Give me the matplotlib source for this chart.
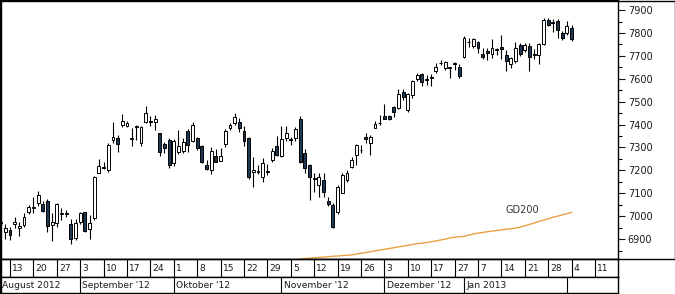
import matplotlib
matplotlib.use("Agg")
import matplotlib.pyplot as plt
import numpy as np
import pandas as pd
from matplotlib.lines import Line2D
from matplotlib.ticker import MultipleLocator

# trading calendar (Xetra holidays removed)
HOLIDAYS = ["2012-12-24", "2012-12-25", "2012-12-26", "2012-12-31", "2013-01-01"]
FIRST_DAY, LAST_DAY, AXIS_END = "2012-08-09", "2013-02-04", "2013-02-15"

# daily OHLC, Aug 9 2012 .. Feb 4 2013
opens = [6970, 6932, 6939, 6968, 6950, 6961, 7019, 7037, 7056, 7051, 7067, 6961, 6969, 7010, 7010, 6965, 6903,
         6975, 7017, 6944, 6990, 7190, 7210, 7201, 7332, 7342, 7398, 7393, 7338, 7390, 7320, 7412, 7415, 7410,
         7362, 7313, 7332, 7233, 7280, 7284, 7372, 7329, 7340, 7306, 7223, 7201, 7262, 7242, 7315, 7383, 7405,
         7412, 7372, 7342, 7195, 7195, 7169, 7195, 7245, 7306, 7262, 7340, 7331, 7340, 7423, 7275, 7223, 7161,
         7136, 7158, 7066, 7048, 7019, 7102, 7158, 7216, 7267, 7287, 7347, 7320, 7386, 7405, 7437, 7437, 7478,
         7473, 7542, 7463, 7529, 7597, 7620, 7596, 7605, 7635, 7668, 7645, 7652, 7665, 7650, 7693, 7760, 7743,
         7762, 7708, 7722, 7708, 7727, 7740, 7703, 7663, 7679, 7747, 7725, 7743, 7704, 7703, 7750, 7856, 7849,
         7853, 7798, 7798, 7820]
highs = [6985, 6966, 6954, 6997, 6975, 7012, 7048, 7085, 7111, 7067, 7077, 7012, 7056, 7034, 7025, 6986, 6986,
         7018, 7020, 7005, 7175, 7248, 7238, 7318, 7412, 7354, 7446, 7415, 7383, 7400, 7394, 7482, 7437, 7441,
         7364, 7325, 7340, 7336, 7376, 7340, 7380, 7410, 7345, 7310, 7245, 7303, 7292, 7296, 7379, 7405, 7449,
         7427, 7394, 7347, 7259, 7223, 7256, 7227, 7297, 7350, 7393, 7393, 7347, 7390, 7437, 7295, 7230, 7187,
         7187, 7187, 7082, 7056, 7136, 7190, 7201, 7259, 7315, 7310, 7364, 7354, 7417, 7442, 7490, 7442, 7481,
         7554, 7554, 7539, 7596, 7624, 7624, 7616, 7620, 7670, 7682, 7677, 7652, 7674, 7663, 7786, 7776, 7779,
         7765, 7733, 7733, 7772, 7733, 7791, 7725, 7696, 7762, 7755, 7755, 7755, 7728, 7755, 7864, 7866, 7859,
         7859, 7810, 7852, 7834]
lows = [6960, 6899, 6896, 6947, 6913, 6953, 7008, 7012, 7044, 7019, 6932, 6892, 6953, 6982, 6997, 6877, 6895,
        6968, 6930, 6900, 6985, 7187, 7204, 7194, 7318, 7281, 7390, 7388, 7306, 7332, 7305, 7405, 7393, 7376,
        7262, 7274, 7210, 7220, 7271, 7274, 7280, 7325, 7289, 7233, 7201, 7184, 7238, 7240, 7300, 7376, 7398,
        7369, 7307, 7161, 7126, 7184, 7150, 7179, 7236, 7262, 7259, 7328, 7310, 7328, 7231, 7187, 7070, 7107,
        7085, 7085, 7044, 6950, 7009, 7100, 7151, 7209, 7223, 7277, 7318, 7267, 7383, 7398, 7423, 7420, 7431,
        7466, 7507, 7456, 7515, 7591, 7568, 7572, 7568, 7626, 7660, 7638, 7602, 7638, 7604, 7689, 7740, 7734,
        7714, 7685, 7680, 7689, 7703, 7685, 7635, 7645, 7667, 7700, 7716, 7635, 7685, 7664, 7747, 7830, 7805,
        7776, 7769, 7791, 7765]
closes = [6975, 6950, 6917, 6975, 6955, 6995, 7041, 7040, 7091, 7024, 6956, 6974, 7051, 7015, 7014, 6899, 6971,
          7015, 6937, 6971, 7172, 7219, 7215, 7310, 7345, 7313, 7415, 7408, 7342, 7395, 7390, 7449, 7410, 7424,
          7281, 7296, 7223, 7328, 7306, 7322, 7310, 7398, 7296, 7238, 7204, 7284, 7238, 7262, 7373, 7398, 7434,
          7383, 7329, 7173, 7200, 7198, 7233, 7199, 7284, 7265, 7335, 7364, 7335, 7380, 7238, 7209, 7169, 7165,
          7169, 7107, 7052, 6954, 7128, 7179, 7190, 7245, 7310, 7291, 7335, 7347, 7402, 7409, 7425, 7425, 7456,
          7532, 7521, 7532, 7590, 7616, 7587, 7599, 7608, 7652, 7671, 7674, 7649, 7668, 7612, 7776, 7762, 7772,
          7733, 7693, 7711, 7733, 7729, 7728, 7677, 7692, 7733, 7707, 7747, 7696, 7706, 7750, 7856, 7834, 7842,
          7813, 7776, 7830, 7772]

# 200-day average, visible from Nov 7 2012
gd200_start = "2012-11-07"
gd200 = [6813, 6815, 6817, 6818, 6820, 6821, 6823, 6825, 6826, 6828, 6829, 6831, 6834, 6838, 6841, 6845,
         6848, 6852, 6855, 6859, 6862, 6866, 6869, 6873, 6876, 6880, 6882, 6885, 6888, 6892, 6896, 6900,
         6905, 6908, 6910, 6912, 6917, 6922, 6926, 6929, 6932, 6935, 6937, 6940, 6943, 6945, 6948, 6952,
         6958, 6964, 6970, 6977, 6983, 6989, 6995, 7000, 7006, 7011, 7017]

month_labels = ["August 2012", "September '12", "Oktober '12", "November '12", "Dezember '12", "Jan 2013", ""]

W, H = 675, 294
UP, DOWN, EDGE = "white", "#1e3853", "black"
TXT = "#1a1a1a"
FS = 6.6

days = pd.bdate_range(FIRST_DAY, AXIS_END)
days = days[~days.isin(pd.to_datetime(HOLIDAYS))]
n = len(days[days <= LAST_DAY])
x = np.arange(n)
o, h, l, c = map(np.array, (opens, highs, lows, closes))

# first trading day of each week, dropping one that sits too close to the previous
week_idx = []
for i in range(1, len(days)):
    if days[i].weekday() < days[i - 1].weekday():
        if week_idx and i - week_idx[-1] < 3:
            continue
        week_idx.append(i)
month_idx = [i for i in range(1, len(days)) if days[i].month != days[i - 1].month]


def box(x0, y0, x1, y1):
    # pixel box (from top-left) -> figure fraction rect
    return [x0 / W, 1 - y1 / H, (x1 - x0) / W, (y1 - y0) / H]


fig = plt.figure(figsize=(W / 100, H / 100), dpi=100)
ax = fig.add_axes(box(0, 0, 618, 259))
row1 = fig.add_axes(box(0, 259, 618, 277), sharex=ax)
row2 = fig.add_axes(box(0, 277, 618, 293), sharex=ax)

# candles
ax.vlines(x, l, h, color=EDGE, linewidth=0.8, zorder=2)
body_lo = np.minimum(o, c)
body_h = np.maximum(np.abs(c - o), 2.5)
colors = [UP if cc >= oo else DOWN for oo, cc in zip(o, c)]
ax.bar(x, body_h, bottom=body_lo, width=0.62, color=colors, edgecolor=EDGE, linewidth=0.7, zorder=3)

g0 = int(np.where(days == pd.Timestamp(gd200_start))[0][0])
gx = np.arange(g0, g0 + len(gd200))
ax.plot(gx, gd200, color="#eda043", linewidth=1.0, zorder=1)
ax.text(111.4, 7027, "GD200", ha="center", va="center", fontsize=FS + 0.4, color="#333333")

px = 4.68  # pixels per trading day
ax.set_xlim(-0.64 / px, (618 - 0.64) / px)
ax.set_ylim(6813, 7944)
ax.yaxis.tick_right()
ax.yaxis.set_major_locator(MultipleLocator(100))
ax.yaxis.set_minor_locator(MultipleLocator(50))
ax.tick_params(axis="y", which="major", direction="out", length=5, width=0.8, labelsize=FS + 0.4,
               pad=2, colors=TXT)
ax.tick_params(axis="y", which="minor", direction="out", length=3, width=0.8)
ax.tick_params(axis="x", bottom=False, labelbottom=False)
for sp in ax.spines.values():
    sp.set_linewidth(1)

for r in (row1, row2):
    r.set_ylim(0, 1)
    r.set_yticks([])
    r.tick_params(axis="x", bottom=False, labelbottom=False)
    for sp in r.spines.values():
        sp.set_linewidth(1)

for i in week_idx:
    row1.axvline(i, color=EDGE, linewidth=0.8)
    row1.annotate(str(days[i].day), (i, 0.45), xytext=(1.6, 0), textcoords="offset points",
                  ha="left", va="center", fontsize=FS, color=TXT)

starts = [ax.get_xlim()[0]] + month_idx
for i in month_idx:
    row2.axvline(i, color=EDGE, linewidth=0.8)
for s, lab in zip(starts, month_labels):
    row2.annotate(lab, (s, 0.45), xytext=(1.6, 0), textcoords="offset points",
                  ha="left", va="center", fontsize=FS, color=TXT)

# outer frame around the whole chart
frame = [([0.5, 674.5], [0.5, 0.5]), ([674.5, 674.5], [0.5, 259]), ([0, 675], [259, 259]),
         ([0.5, 0.5], [0, 293.5])]
for xs, ys in frame:
    fig.add_artist(Line2D([v / W for v in xs], [1 - v / H for v in ys], color=EDGE, linewidth=1,
                          transform=fig.transFigure))

fig.savefig("out.png", dpi=100)
